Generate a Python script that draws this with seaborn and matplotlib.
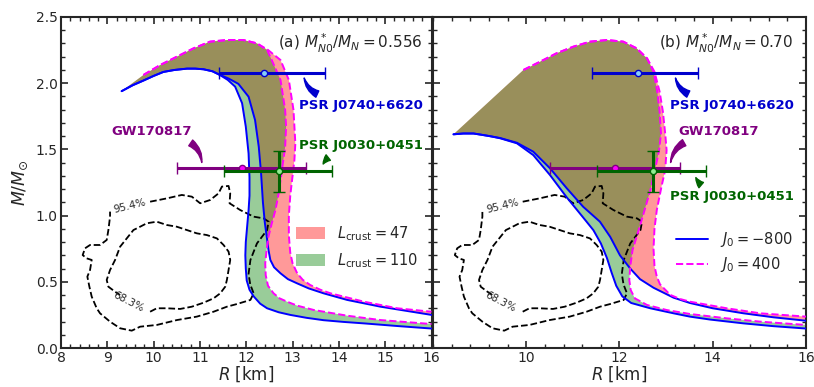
import numpy as np
import matplotlib
matplotlib.use("Agg")
import matplotlib.pyplot as plt
import seaborn as sns
from matplotlib.ticker import MultipleLocator
from matplotlib.patches import Patch
from matplotlib.lines import Line2D

# ---------------- data: panel (a) M*/M = 0.556 ----------------
a_L110_J800_R = [9.31, 9.55, 9.78, 10.0, 10.21, 10.45, 10.72, 10.90, 11.08, 11.27, 11.44, 11.60, 11.76, 11.91, 11.99, 12.05, 12.07, 12.07, 12.05, 12.02, 11.99, 11.98, 11.99, 12.01, 12.07, 12.16, 12.30, 12.45, 12.70, 12.95, 13.30, 13.67, 14.10, 14.54, 15.26, 16.0]
a_L110_J800_M = [1.94, 1.985, 2.02, 2.055, 2.085, 2.10, 2.11, 2.11, 2.105, 2.09, 2.06, 2.025, 1.974, 1.849, 1.672, 1.47, 1.29, 1.15, 1.04, 0.92, 0.80, 0.70, 0.60, 0.51, 0.44, 0.39, 0.335, 0.30, 0.27, 0.25, 0.228, 0.21, 0.197, 0.186, 0.166, 0.147]
a_L47_J800_R = [9.31, 9.55, 9.78, 10.0, 10.21, 10.45, 10.72, 10.90, 11.08, 11.27, 11.44, 11.62, 11.83, 12.05, 12.19, 12.27, 12.32, 12.36, 12.40, 12.45, 12.48, 12.52, 12.60, 12.74, 12.90, 13.10, 13.35, 13.67, 14.18, 14.90, 16.0]
a_L47_J800_M = [1.94, 1.985, 2.02, 2.055, 2.085, 2.10, 2.11, 2.11, 2.105, 2.09, 2.062, 2.035, 1.995, 1.898, 1.722, 1.52, 1.32, 1.10, 0.95, 0.82, 0.74, 0.665, 0.61, 0.564, 0.52, 0.488, 0.45, 0.413, 0.363, 0.312, 0.25]
a_L110_J400_R = [9.78, 10.14, 10.50, 10.86, 11.22, 11.58, 11.94, 12.23, 12.45, 12.55, 12.74, 12.84, 12.86, 12.84, 12.77, 12.70, 12.63, 12.55, 12.48, 12.44, 12.41, 12.42, 12.47, 12.59, 12.72, 12.88, 13.10, 13.46, 14.18, 14.90, 16.0]
a_L110_J400_M = [2.062, 2.137, 2.20, 2.263, 2.314, 2.326, 2.326, 2.301, 2.251, 2.175, 2.024, 1.798, 1.672, 1.52, 1.344, 1.168, 1.042, 0.94, 0.841, 0.74, 0.64, 0.55, 0.47, 0.413, 0.375, 0.350, 0.32, 0.287, 0.244, 0.211, 0.181]
a_L47_J400_R = [9.78, 10.14, 10.50, 10.86, 11.22, 11.58, 11.94, 12.23, 12.47, 12.74, 12.92, 13.02, 13.06, 13.04, 13.00, 12.95, 12.92, 12.92, 12.95, 13.00, 13.10, 13.22, 13.38, 13.60, 13.82, 14.54, 15.26, 16.0]
a_L47_J400_M = [2.062, 2.137, 2.20, 2.263, 2.314, 2.326, 2.326, 2.301, 2.251, 2.175, 2.024, 1.798, 1.546, 1.42, 1.30, 1.15, 1.00, 0.85, 0.72, 0.64, 0.564, 0.515, 0.476, 0.44, 0.413, 0.350, 0.300, 0.274]

# ---------------- data: panel (b) M*/M = 0.70 ----------------
b_L110_J800_R = [8.44, 8.65, 8.87, 9.05, 9.22, 9.44, 9.80, 10.15, 10.51, 10.87, 11.22, 11.44, 11.60, 11.73, 11.83, 11.93, 12.06, 12.25, 12.66, 13.16, 13.51, 13.94, 14.66, 15.30, 16.0]
b_L110_J800_M = [1.614, 1.62, 1.62, 1.61, 1.60, 1.584, 1.546, 1.457, 1.306, 1.137, 0.986, 0.89, 0.79, 0.68, 0.57, 0.47, 0.39, 0.34, 0.30, 0.262, 0.237, 0.215, 0.186, 0.165, 0.147]
b_L47_J800_R = [8.44, 8.65, 8.87, 9.05, 9.22, 9.44, 9.80, 10.15, 10.51, 10.87, 11.22, 11.58, 11.80, 12.01, 12.23, 12.44, 12.73, 13.16, 13.51, 14.0, 14.66, 15.30, 16.0]
b_L47_J800_M = [1.614, 1.62, 1.62, 1.61, 1.60, 1.586, 1.55, 1.483, 1.357, 1.206, 1.067, 0.954, 0.84, 0.70, 0.60, 0.52, 0.455, 0.38, 0.34, 0.30, 0.262, 0.232, 0.206]
b_L110_J400_R = [9.94, 10.30, 10.65, 11.01, 11.37, 11.73, 12.08, 12.37, 12.59, 12.73, 12.81, 12.86, 12.89, 12.85, 12.76, 12.66, 12.52, 12.39, 12.28, 12.23, 12.21, 12.24, 12.33, 12.59, 13.01, 13.51, 14.30, 15.02, 16.0]
b_L110_J400_M = [2.10, 2.163, 2.226, 2.276, 2.314, 2.326, 2.314, 2.263, 2.188, 2.087, 1.937, 1.787, 1.62, 1.495, 1.344, 1.19, 1.02, 0.866, 0.740, 0.614, 0.514, 0.438, 0.375, 0.325, 0.287, 0.257, 0.224, 0.199, 0.174]
b_L47_J400_R = [9.94, 10.30, 10.65, 11.01, 11.37, 11.73, 12.08, 12.37, 12.59, 12.75, 12.86, 12.93, 12.98, 13.01, 12.98, 12.90, 12.80, 12.75, 12.73, 12.75, 12.80, 12.87, 13.09, 13.30, 13.51, 14.30, 15.02, 16.0]
b_L47_J400_M = [2.10, 2.163, 2.226, 2.276, 2.314, 2.326, 2.314, 2.263, 2.188, 2.087, 1.937, 1.787, 1.62, 1.495, 1.344, 1.218, 1.042, 0.90, 0.75, 0.62, 0.539, 0.48, 0.401, 0.37, 0.350, 0.300, 0.262, 0.237]

# ---------------- GW170817 credible contours ----------------
c954_R = [9.924, 10.285, 10.609, 10.825, 11.005, 11.222, 11.402, 11.474, 11.618, 11.654, 11.640, 11.870, 12.159, 12.375, 12.483, 12.45, 12.231, 12.09, 12.05, 12.086, 12.16, 12.09, 11.798, 11.582, 11.294, 10.933, 10.501, 10.068, 9.708, 9.528, 9.276, 9.059, 8.843, 8.771, 8.663, 8.613, 8.569, 8.627, 8.663, 8.555, 8.468, 8.519, 8.627, 8.843, 8.987, 9.023, 9.059, 9.059]
c954_M = [1.105, 1.130, 1.156, 1.143, 1.093, 1.118, 1.168, 1.219, 1.224, 1.168, 1.093, 1.042, 0.992, 0.979, 0.954, 0.891, 0.790, 0.665, 0.560, 0.480, 0.413, 0.363, 0.332, 0.312, 0.274, 0.237, 0.211, 0.174, 0.161, 0.131, 0.149, 0.199, 0.262, 0.300, 0.388, 0.463, 0.539, 0.589, 0.665, 0.677, 0.702, 0.753, 0.778, 0.778, 0.816, 0.891, 0.992, 1.030]
c683_R = [9.924, 10.068, 10.285, 10.573, 10.825, 11.077, 11.294, 11.438, 11.546, 11.582, 11.618, 11.654, 11.618, 11.510, 11.366, 11.150, 10.933, 10.717, 10.501, 10.285, 10.068, 9.852, 9.708, 9.564, 9.420, 9.276, 9.168, 9.059, 8.987, 9.023, 9.168, 9.276]
c683_M = [0.274, 0.300, 0.300, 0.295, 0.312, 0.342, 0.375, 0.413, 0.463, 0.514, 0.589, 0.665, 0.728, 0.778, 0.828, 0.853, 0.866, 0.891, 0.916, 0.929, 0.954, 0.942, 0.916, 0.891, 0.828, 0.765, 0.665, 0.589, 0.514, 0.463, 0.425, 0.400]

# ---------------- observational constraints ----------------
j0740 = dict(R=12.39, M=2.08, Rlo=0.98, Rhi=1.30)
gw = dict(R=11.9, M=1.36, Rlo=1.4, Rhi=1.4)
j0030 = dict(R=12.71, M=1.34, Rlo=1.19, Rhi=1.14, Mlo=0.16, Mhi=0.15)

panel_labels = [r"(a) $M^*_{N0}/M_N = 0.556$", r"(b) $M^*_{N0}/M_N = 0.70$"]
x_major_ticks_a = [8, 9, 10, 11, 12, 13, 14, 15, 16]
x_major_ticks_b = [10, 12, 14, 16]

sns.set_style("ticks")
plt.rcParams['font.family'] = ['DejaVu Sans']
plt.rcParams['mathtext.fontset'] = 'dejavusans'

BLUE = '#0000ff'
MAG = '#ff00ff'
EB_BLUE = '#0000cd'
PURPLE = '#800080'
DGREEN = '#006400'

fig = plt.figure(figsize=(8.14, 3.87), dpi=100)
ax1 = fig.add_axes([61 / 814, 39 / 387, 370.5 / 814, 331 / 387])
ax2 = fig.add_axes([433 / 814, 39 / 387, 373 / 814, 331 / 387])


def line(ax, R, M, color, ls='-', lw=1.4, z=3):
    sns.lineplot(x=R, y=M, ax=ax, sort=False, estimator=None, color=color,
                 linestyle=ls, lw=lw, zorder=z, solid_joinstyle='round')


def band(ax, Rb, Mb, Rd, Md, color):
    ax.fill(list(Rb) + list(Rd)[::-1], list(Mb) + list(Md)[::-1],
            color=color, alpha=0.4, lw=0, zorder=1)


panels = [
    (ax1, a_L47_J800_R, a_L47_J800_M, a_L47_J400_R, a_L47_J400_M,
     a_L110_J800_R, a_L110_J800_M, a_L110_J400_R, a_L110_J400_M),
    (ax2, b_L47_J800_R, b_L47_J800_M, b_L47_J400_R, b_L47_J400_M,
     b_L110_J800_R, b_L110_J800_M, b_L110_J400_R, b_L110_J400_M),
]

for i, (ax, r47b, m47b, r47d, m47d, r110b, m110b, r110d, m110d) in enumerate(panels):
    band(ax, r47b, m47b, r47d, m47d, 'red')
    band(ax, r110b, m110b, r110d, m110d, 'green')
    line(ax, r47b, m47b, BLUE)
    line(ax, r110b, m110b, BLUE)
    line(ax, r47d, m47d, MAG, ls='--')
    line(ax, r110d, m110d, MAG, ls='--')
    # contours
    line(ax, c954_R, c954_M, 'black', ls='--', lw=1.3, z=2)
    line(ax, c683_R, c683_M, 'black', ls='--', lw=1.3, z=2)
    ax.text(9.49, 1.075, "95.4%", fontsize=7.5, rotation=14, ha='center', va='center')
    ax.text(9.45, 0.345, "68.3%", fontsize=7.5, rotation=-27, ha='center', va='center')

    # error bars
    ax.errorbar(j0740['R'], j0740['M'], xerr=[[j0740['Rlo']], [j0740['Rhi']]], fmt='o',
                color=EB_BLUE, mfc='#87cefa', mec=EB_BLUE, ms=4.5, mew=1, lw=2.2,
                capsize=4.5, capthick=2.8, zorder=6)
    ax.errorbar(gw['R'], gw['M'], xerr=[[gw['Rlo']], [gw['Rhi']]], fmt='o',
                color=PURPLE, mfc='#ff00ff', mec=PURPLE, ms=4.5, mew=1, lw=2.2,
                capsize=4.5, capthick=2.8, zorder=6)
    ax.errorbar(j0030['R'], j0030['M'], xerr=[[j0030['Rlo']], [j0030['Rhi']]],
                yerr=[[j0030['Mlo']], [j0030['Mhi']]], fmt='o',
                color=DGREEN, mfc='#90ee90', mec=DGREEN, ms=4.5, mew=1, lw=2.2,
                capsize=4.5, capthick=2.8, zorder=7)

    ax.set_xlim(8, 16)
    ax.set_ylim(0, 2.5)
    ax.yaxis.set_major_locator(MultipleLocator(0.5))
    ax.yaxis.set_minor_locator(MultipleLocator(0.1))
    ax.tick_params(which='both', direction='in', top=True, right=True, labelsize=10, pad=2.5)
    ax.tick_params(which='major', length=5, width=1.2)
    ax.tick_params(which='minor', length=2.8, width=1.0)
    for s in ax.spines.values():
        s.set_linewidth(1.5)
    ax.set_xlabel(r"$R$ [km]", fontsize=12, labelpad=-0.5)
    ax.text(0.975 if i == 0 else 0.965, 0.955, panel_labels[i], transform=ax.transAxes,
            ha='right', va='top', fontsize=11)

arrow_kw = dict(arrowstyle='wedge,tail_width=0.5,shrink_factor=0.5')

# panel (a) annotations
ax1.text(15.81, 1.835, "PSR J0740+6620", color=EB_BLUE, fontsize=9.5, fontweight='bold', ha='right', va='center')
ax1.annotate('', xy=(13.24, 2.06), xytext=(13.59, 1.91),
             arrowprops=dict(color=EB_BLUE, connectionstyle='arc3,rad=-0.3', **arrow_kw))
ax1.text(9.95, 1.634, "GW170817", color=PURPLE, fontsize=9.5, fontweight='bold', ha='center', va='center')
ax1.annotate('', xy=(11.04, 1.38), xytext=(10.75, 1.56),
             arrowprops=dict(color=PURPLE, connectionstyle='arc3,rad=-0.3', **arrow_kw))
ax1.text(15.81, 1.533, "PSR J0030+0451", color=DGREEN, fontsize=9.5, fontweight='bold', ha='right', va='center')
ax1.annotate('', xy=(13.64, 1.37), xytext=(13.82, 1.45),
             arrowprops=dict(color=DGREEN, connectionstyle='arc3,rad=0.2', **arrow_kw))

# panel (b) annotations
ax2.text(15.73, 1.835, "PSR J0740+6620", color=EB_BLUE, fontsize=9.5, fontweight='bold', ha='right', va='center')
ax2.annotate('', xy=(13.19, 2.06), xytext=(13.53, 1.91),
             arrowprops=dict(color=EB_BLUE, connectionstyle='arc3,rad=-0.3', **arrow_kw))
ax2.text(14.12, 1.634, "GW170817", color=PURPLE, fontsize=9.5, fontweight='bold', ha='center', va='center')
ax2.annotate('', xy=(13.09, 1.38), xytext=(13.44, 1.56),
             arrowprops=dict(color=PURPLE, connectionstyle='arc3,rad=0.3', **arrow_kw))
ax2.text(15.73, 1.143, "PSR J0030+0451", color=DGREEN, fontsize=9.5, fontweight='bold', ha='right', va='center')
ax2.annotate('', xy=(13.62, 1.307), xytext=(13.80, 1.218),
             arrowprops=dict(color=DGREEN, connectionstyle='arc3,rad=-0.2', **arrow_kw))

# axes specifics
ax1.xaxis.set_major_locator(MultipleLocator(1))
ax1.xaxis.set_minor_locator(MultipleLocator(0.2))
ax1.set_xticks(x_major_ticks_a)
ax1.set_ylabel(r"$M/M_{\odot}$", fontsize=12.5, labelpad=4)

ax2.set_xticks(x_major_ticks_b)
ax2.xaxis.set_minor_locator(MultipleLocator(0.4))
ax2.tick_params(labelleft=False)
ax2.set_ylabel('')

leg1 = ax1.legend(handles=[Patch(color='red', alpha=0.4, lw=0, label=r"$L_{\rm crust} = 47$"),
                           Patch(color='green', alpha=0.4, lw=0, label=r"$L_{\rm crust} = 110$")],
                  loc='center right', bbox_to_anchor=(1.0, 0.305), frameon=False, fontsize=10.5,
                  handlelength=2.0, handleheight=0.9, labelspacing=0.55, handletextpad=0.8)
leg2 = ax2.legend(handles=[Line2D([], [], color=BLUE, lw=1.4, label=r"$J_0 = -800$"),
                           Line2D([], [], color=MAG, lw=1.4, ls='--', label=r"$J_0 = 400$")],
                  loc='center right', bbox_to_anchor=(1.0, 0.29), frameon=False, fontsize=10.5,
                  handlelength=2.2, labelspacing=0.45, handletextpad=0.8)

fig.savefig("out.png", dpi=100)
